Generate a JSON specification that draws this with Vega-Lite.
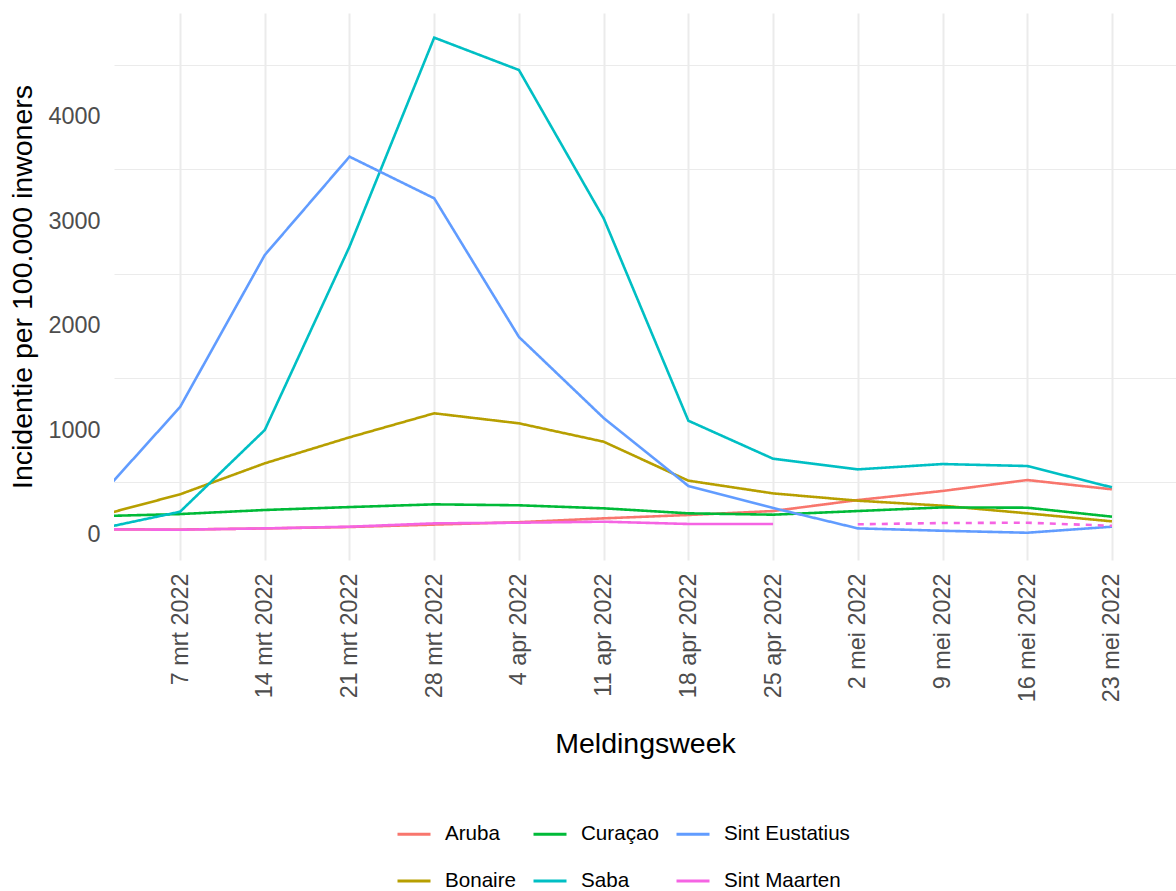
{
  "$schema": "https://vega.github.io/schema/vega-lite/v6.json",
  "autosize": {"type": "none"},
  "padding": {"left": 114, "top": 13, "right": 0, "bottom": 331},
  "width": 1062,
  "height": 547,
  "config": {
    "view": {"stroke": null},
    "font": "Liberation Sans, Arial, sans-serif",
    "axis": {"domain": false, "ticks": false, "gridColor": "#EBEBEB", "labelColor": "#4D4D4D", "titleColor": "#000000", "titleFontWeight": "normal", "labelFont": "Liberation Sans, Arial, sans-serif", "titleFont": "Liberation Sans, Arial, sans-serif"},
    "legend": {"labelFont": "Liberation Sans, Arial, sans-serif"}
  },
  "data": {
    "values": [
      {"country": "Aruba", "date": "2022-02-28", "value": 50, "status": "solid"},
      {"country": "Aruba", "date": "2022-03-07", "value": 48, "status": "solid"},
      {"country": "Aruba", "date": "2022-03-14", "value": 58, "status": "solid"},
      {"country": "Aruba", "date": "2022-03-21", "value": 72, "status": "solid"},
      {"country": "Aruba", "date": "2022-03-28", "value": 95, "status": "solid"},
      {"country": "Aruba", "date": "2022-04-04", "value": 118, "status": "solid"},
      {"country": "Aruba", "date": "2022-04-11", "value": 155, "status": "solid"},
      {"country": "Aruba", "date": "2022-04-18", "value": 187, "status": "solid"},
      {"country": "Aruba", "date": "2022-04-25", "value": 225, "status": "solid"},
      {"country": "Aruba", "date": "2022-05-02", "value": 330, "status": "solid"},
      {"country": "Aruba", "date": "2022-05-09", "value": 417, "status": "solid"},
      {"country": "Aruba", "date": "2022-05-16", "value": 522, "status": "solid"},
      {"country": "Aruba", "date": "2022-05-23", "value": 433, "status": "solid"},
      {"country": "Bonaire", "date": "2022-02-28", "value": 170, "status": "solid"},
      {"country": "Bonaire", "date": "2022-03-07", "value": 385, "status": "solid"},
      {"country": "Bonaire", "date": "2022-03-14", "value": 682, "status": "solid"},
      {"country": "Bonaire", "date": "2022-03-21", "value": 931, "status": "solid"},
      {"country": "Bonaire", "date": "2022-03-28", "value": 1161, "status": "solid"},
      {"country": "Bonaire", "date": "2022-04-04", "value": 1065, "status": "solid"},
      {"country": "Bonaire", "date": "2022-04-11", "value": 889, "status": "solid"},
      {"country": "Bonaire", "date": "2022-04-18", "value": 516, "status": "solid"},
      {"country": "Bonaire", "date": "2022-04-25", "value": 394, "status": "solid"},
      {"country": "Bonaire", "date": "2022-05-02", "value": 324, "status": "solid"},
      {"country": "Bonaire", "date": "2022-05-09", "value": 276, "status": "solid"},
      {"country": "Bonaire", "date": "2022-05-16", "value": 203, "status": "solid"},
      {"country": "Bonaire", "date": "2022-05-23", "value": 126, "status": "solid"},
      {"country": "Curaçao", "date": "2022-02-28", "value": 175, "status": "solid"},
      {"country": "Curaçao", "date": "2022-03-07", "value": 196, "status": "solid"},
      {"country": "Curaçao", "date": "2022-03-14", "value": 235, "status": "solid"},
      {"country": "Curaçao", "date": "2022-03-21", "value": 263, "status": "solid"},
      {"country": "Curaçao", "date": "2022-03-28", "value": 289, "status": "solid"},
      {"country": "Curaçao", "date": "2022-04-04", "value": 280, "status": "solid"},
      {"country": "Curaçao", "date": "2022-04-11", "value": 251, "status": "solid"},
      {"country": "Curaçao", "date": "2022-04-18", "value": 203, "status": "solid"},
      {"country": "Curaçao", "date": "2022-04-25", "value": 190, "status": "solid"},
      {"country": "Curaçao", "date": "2022-05-02", "value": 225, "status": "solid"},
      {"country": "Curaçao", "date": "2022-05-09", "value": 260, "status": "solid"},
      {"country": "Curaçao", "date": "2022-05-16", "value": 257, "status": "solid"},
      {"country": "Curaçao", "date": "2022-05-23", "value": 171, "status": "solid"},
      {"country": "Saba", "date": "2022-02-28", "value": 46, "status": "solid"},
      {"country": "Saba", "date": "2022-03-07", "value": 218, "status": "solid"},
      {"country": "Saba", "date": "2022-03-14", "value": 1001, "status": "solid"},
      {"country": "Saba", "date": "2022-03-21", "value": 2757, "status": "solid"},
      {"country": "Saba", "date": "2022-03-28", "value": 4759, "status": "solid"},
      {"country": "Saba", "date": "2022-04-04", "value": 4449, "status": "solid"},
      {"country": "Saba", "date": "2022-04-11", "value": 3029, "status": "solid"},
      {"country": "Saba", "date": "2022-04-18", "value": 1090, "status": "solid"},
      {"country": "Saba", "date": "2022-04-25", "value": 726, "status": "solid"},
      {"country": "Saba", "date": "2022-05-02", "value": 624, "status": "solid"},
      {"country": "Saba", "date": "2022-05-09", "value": 675, "status": "solid"},
      {"country": "Saba", "date": "2022-05-16", "value": 656, "status": "solid"},
      {"country": "Saba", "date": "2022-05-23", "value": 452, "status": "solid"},
      {"country": "Sint Eustatius", "date": "2022-02-28", "value": 320, "status": "solid"},
      {"country": "Sint Eustatius", "date": "2022-03-07", "value": 1221, "status": "solid"},
      {"country": "Sint Eustatius", "date": "2022-03-14", "value": 2677, "status": "solid"},
      {"country": "Sint Eustatius", "date": "2022-03-21", "value": 3619, "status": "solid"},
      {"country": "Sint Eustatius", "date": "2022-03-28", "value": 3220, "status": "solid"},
      {"country": "Sint Eustatius", "date": "2022-04-04", "value": 1892, "status": "solid"},
      {"country": "Sint Eustatius", "date": "2022-04-11", "value": 1116, "status": "solid"},
      {"country": "Sint Eustatius", "date": "2022-04-18", "value": 465, "status": "solid"},
      {"country": "Sint Eustatius", "date": "2022-04-25", "value": 254, "status": "solid"},
      {"country": "Sint Eustatius", "date": "2022-05-02", "value": 59, "status": "solid"},
      {"country": "Sint Eustatius", "date": "2022-05-09", "value": 36, "status": "solid"},
      {"country": "Sint Eustatius", "date": "2022-05-16", "value": 17, "status": "solid"},
      {"country": "Sint Eustatius", "date": "2022-05-23", "value": 75, "status": "solid"},
      {"country": "Sint Maarten", "date": "2022-02-28", "value": 50, "status": "solid"},
      {"country": "Sint Maarten", "date": "2022-03-07", "value": 46, "status": "solid"},
      {"country": "Sint Maarten", "date": "2022-03-14", "value": 59, "status": "solid"},
      {"country": "Sint Maarten", "date": "2022-03-21", "value": 75, "status": "solid"},
      {"country": "Sint Maarten", "date": "2022-03-28", "value": 107, "status": "solid"},
      {"country": "Sint Maarten", "date": "2022-04-04", "value": 113, "status": "solid"},
      {"country": "Sint Maarten", "date": "2022-04-11", "value": 123, "status": "solid"},
      {"country": "Sint Maarten", "date": "2022-04-18", "value": 101, "status": "solid"},
      {"country": "Sint Maarten", "date": "2022-04-25", "value": 101, "status": "solid"},
      {"country": "Sint Maarten", "date": "2022-05-02", "value": 98, "status": "dashed"},
      {"country": "Sint Maarten", "date": "2022-05-09", "value": 110, "status": "dashed"},
      {"country": "Sint Maarten", "date": "2022-05-16", "value": 113, "status": "dashed"},
      {"country": "Sint Maarten", "date": "2022-05-23", "value": 84, "status": "dashed"}
    ]
  },
  "layer": [
    {
      "mark": {"type": "rule", "opacity": 0},
      "encoding": {
        "y": {
          "field": "value", "type": "quantitative",
          "scale": {"domain": [-244, 4995], "nice": false, "zero": false},
          "axis": {"orient": "right", "values": [500, 1500, 2500, 3500, 4500], "labels": false, "grid": true, "gridWidth": 1, "title": null}
        }
      }
    },
    {
      "mark": {"type": "line", "clip": true, "strokeWidth": 2.6},
      "encoding": {
        "x": {
          "field": "date", "type": "temporal",
          "scale": {"type": "utc", "domain": [{"year": 2022, "month": 3, "date": 1, "hours": 13, "utc": true}, {"year": 2022, "month": 5, "date": 28, "hours": 7, "utc": true}]},
          "axis": {
            "title": "Meldingsweek",
            "titleFontSize": 28.5,
            "titlePadding": 28,
            "labelFontSize": 23.4,
            "labelAngle": 270,
            "labelAlign": "right",
            "labelBaseline": "middle",
            "labelPadding": 13,
            "labelOverlap": false,
            "gridWidth": 2,
            "values": [
              {"year": 2022, "month": 3, "date": 7, "utc": true},
              {"year": 2022, "month": 3, "date": 14, "utc": true},
              {"year": 2022, "month": 3, "date": 21, "utc": true},
              {"year": 2022, "month": 3, "date": 28, "utc": true},
              {"year": 2022, "month": 4, "date": 4, "utc": true},
              {"year": 2022, "month": 4, "date": 11, "utc": true},
              {"year": 2022, "month": 4, "date": 18, "utc": true},
              {"year": 2022, "month": 4, "date": 25, "utc": true},
              {"year": 2022, "month": 5, "date": 2, "utc": true},
              {"year": 2022, "month": 5, "date": 9, "utc": true},
              {"year": 2022, "month": 5, "date": 16, "utc": true},
              {"year": 2022, "month": 5, "date": 23, "utc": true}
            ],
            "labelExpr": "utcdate(datum.value) + ' ' + ['jan','feb','mrt','apr','mei','jun','jul','aug','sep','okt','nov','dec'][utcmonth(datum.value)] + ' ' + utcyear(datum.value)"
          }
        },
        "y": {
          "field": "value", "type": "quantitative",
          "axis": {
            "title": "Incidentie per 100.000 inwoners",
            "titleFontSize": 28.5,
            "titlePadding": 10,
            "labelFontSize": 23.4,
            "labelPadding": 14,
            "values": [0, 1000, 2000, 3000, 4000],
            "format": "d",
            "gridWidth": 2
          }
        },
        "color": {
          "field": "country", "type": "nominal",
          "scale": {
            "domain": ["Aruba", "Curaçao", "Sint Eustatius", "Bonaire", "Saba", "Sint Maarten"],
            "range": ["#F8766D", "#00BA38", "#619CFF", "#B79F00", "#00BFC4", "#F564E3"]
          },
          "legend": {
            "title": null,
            "orient": "none",
            "legendX": 282,
            "legendY": 803,
            "direction": "horizontal",
            "columns": 3,
            "symbolType": "stroke",
            "symbolSize": 1089,
            "symbolStrokeWidth": 3,
            "labelFontSize": 20.6,
            "labelColor": "#000000",
            "labelOffset": 13,
            "columnPadding": 11,
            "rowPadding": 18
          }
        },
        "strokeDash": {
          "field": "status", "type": "nominal",
          "scale": {"domain": ["solid", "dashed"], "range": [[1, 0], [6, 6]]},
          "legend": null
        }
      }
    }
  ],
  "resolve": {"axis": {"y": "independent"}}
}
